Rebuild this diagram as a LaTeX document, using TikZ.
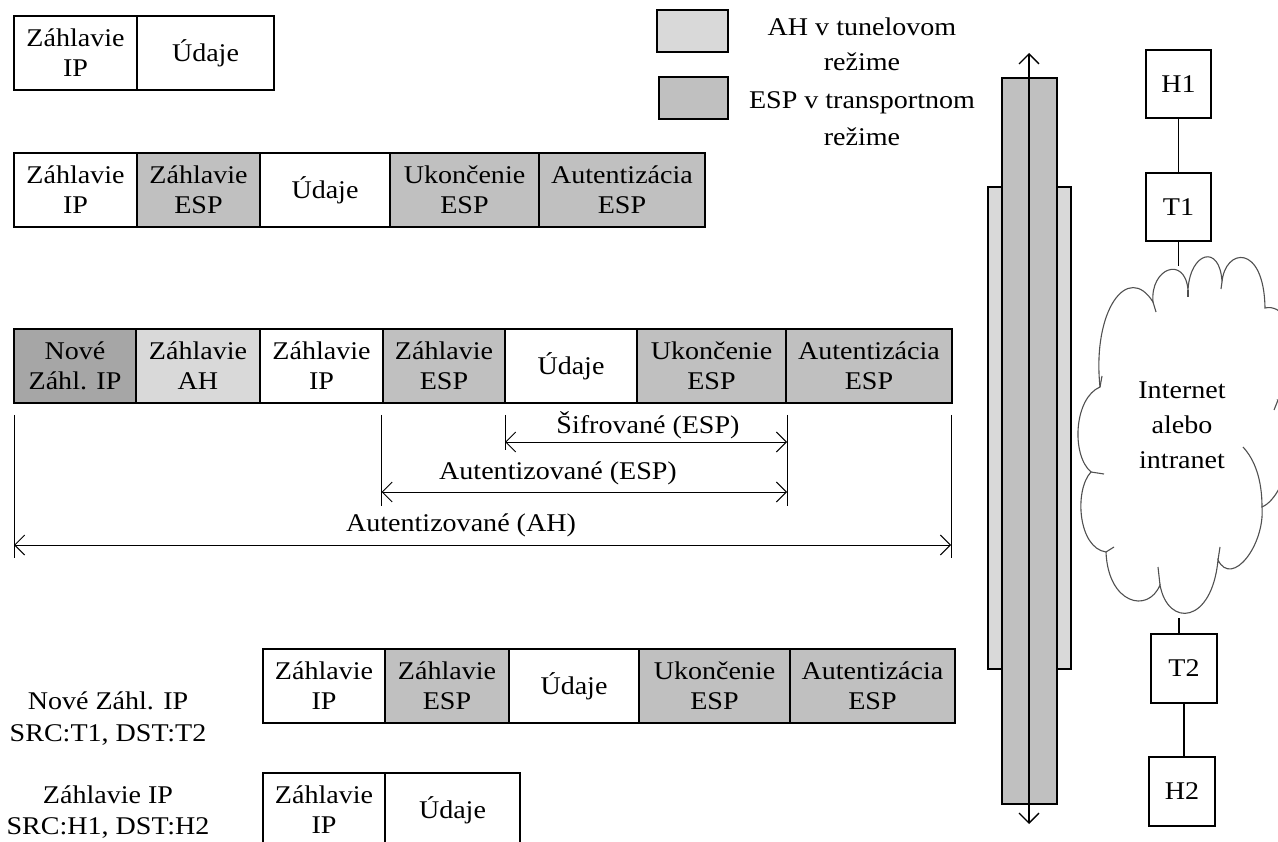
\documentclass[tikz,border=0pt]{standalone}
\usepackage{fontspec}
\setmainfont[FakeStretch=1.1]{Liberation Serif}
\usetikzlibrary{arrows.meta}
\definecolor{espgray}{HTML}{C0C0C0}
\definecolor{ahgray}{HTML}{D9D9D9}
\definecolor{newgray}{HTML}{A6A6A6}
\definecolor{cloudline}{HTML}{505050}
\begin{document}
\begin{tikzpicture}[x=1pt,y=-1pt,
  >={Straight Barb[length=10pt,width=20pt]},
  every node/.style={font=\fontsize{25.5}{30}\selectfont},
  cell/.style={draw, line width=1.3pt, inner sep=0pt, align=center, minimum height=74pt},
  host/.style={draw, line width=1.3pt, inner sep=0pt, minimum width=65pt, minimum height=68pt},
  link/.style={line width=1.3pt},
  dimline/.style={line width=1pt},
  dimarrow/.style={<->, line width=1pt},
  cloudl/.style={draw=cloudline, line width=1.1pt},
  lbl/.style={align=center, inner sep=0pt}]
\useasboundingbox (0,0) rectangle (1278,842);

% Row 1
\node[cell, minimum width=123] (r1a) at (75.5,53) {Záhlavie\\IP};
\node[cell, minimum width=137] (r1b) at (205.5,53) {Údaje};

% Row 2
\node[cell, minimum width=123] (r2a) at (75.5,190) {Záhlavie\\IP};
\node[cell, minimum width=123, fill=espgray] (r2b) at (198.5,190) {Záhlavie\\ESP};
\node[cell, minimum width=130] (r2c) at (325,190) {Údaje};
\node[cell, minimum width=149, fill=espgray] (r2d) at (464.5,190) {Ukončenie\\ESP};
\node[cell, minimum width=166, fill=espgray] (r2e) at (622,190) {Autentizácia\\ESP};

% Row 3
\node[cell, minimum width=122, fill=newgray] (r3a) at (75,366) {Nové\\Záhl. IP};
\node[cell, minimum width=124, fill=ahgray] (r3b) at (198,366) {Záhlavie\\AH};
\node[cell, minimum width=123] (r3c) at (321.5,366) {Záhlavie\\IP};
\node[cell, minimum width=122, fill=espgray] (r3d) at (444,366) {Záhlavie\\ESP};
\node[cell, minimum width=132] (r3e) at (571,366) {Údaje};
\node[cell, minimum width=149, fill=espgray] (r3f) at (711.5,366) {Ukončenie\\ESP};
\node[cell, minimum width=166, fill=espgray] (r3g) at (869,366) {Autentizácia\\ESP};

% Dimension ticks
\coordinate (k1a) at (14,415);   \coordinate (k1b) at (14,558);
\coordinate (k2a) at (381.5,415);\coordinate (k2b) at (381.5,506);
\coordinate (k3a) at (505,415);  \coordinate (k3b) at (505,450);
\coordinate (k4a) at (787,415);  \coordinate (k4b) at (787,506);
\coordinate (k5a) at (951,415);  \coordinate (k5b) at (951,558);
\draw[dimline] (k1a) -- (k1b);
\draw[dimline] (k2a) -- (k2b);
\draw[dimline] (k3a) -- (k3b);
\draw[dimline] (k4a) -- (k4b);
\draw[dimline] (k5a) -- (k5b);
\coordinate (s1) at (505,442); \coordinate (s2) at (787,442);
\coordinate (e1) at (381.5,492); \coordinate (e2) at (787,492);
\coordinate (h1) at (14,545); \coordinate (h2) at (951,545);
\draw[dimarrow] (s1) -- (s2);
\draw[dimarrow] (e1) -- (e2);
\draw[dimarrow] (h1) -- (h2);
\node[lbl] (lsif) at (648,425) {Šifrované (ESP)};
\node[lbl] (lesp) at (558,473) {Autentizované (ESP)};
\node[lbl] (lah) at (461,525) {Autentizované (AH)};

% Row 4
\node[cell, minimum width=122] (r4a) at (324,686) {Záhlavie\\IP};
\node[cell, minimum width=124, fill=espgray] (r4b) at (447,686) {Záhlavie\\ESP};
\node[cell, minimum width=130] (r4c) at (574,686) {Údaje};
\node[cell, minimum width=151, fill=espgray] (r4d) at (714.5,686) {Ukončenie\\ESP};
\node[cell, minimum width=165, fill=espgray] (r4e) at (872.5,686) {Autentizácia\\ESP};

% Row 5
\node[cell, minimum width=122] (r5a) at (324,810) {Záhlavie\\IP};
\node[cell, minimum width=135] (r5b) at (452.5,810) {Údaje};

% Left labels
\node[lbl, font=\fontsize{25.5}{32}\selectfont] (lnew) at (108,719) {Nové Záhl. IP\\SRC:T1, DST:T2};
\node[lbl, font=\fontsize{25.5}{31}\selectfont] (lold) at (108,812.5) {Záhlavie IP\\SRC:H1, DST:H2};

% Legend
\node[draw, line width=1.3pt, fill=ahgray, minimum width=71pt, minimum height=42pt, inner sep=0pt] (lg1) at (692.5,31) {};
\node[draw, line width=1.3pt, fill=espgray, minimum width=69pt, minimum height=42pt, inner sep=0pt] (lg2) at (693.5,98) {};
\node[lbl, font=\fontsize{25.5}{35}\selectfont] (lg1t) at (862,44.5) {AH v tunelovom\\režime};
\node[lbl, font=\fontsize{25.5}{37}\selectfont] (lg2t) at (862,118.5) {ESP v transportnom\\režime};

% Pipe
\draw[line width=1.3pt, fill=ahgray] (988,187) rectangle (1071,669);
\draw[line width=1.3pt, fill=espgray] (1002,78) rectangle (1057,804);
\coordinate (ptop) at (1029,53);
\coordinate (pbot) at (1029,824);
\draw[<->, line width=1.3pt] (ptop) -- (pbot);

% Hosts
\node[host] (H1) at (1178.5,84) {H1};
\node[host] (T1) at (1178.5,207) {T1};
\node[host, minimum width=66pt, minimum height=69pt] (T2) at (1184,668.5) {T2};
\node[host, minimum width=66pt, minimum height=69pt] (H2) at (1182,791.5) {H2};

% Cloud
\begin{scope}
\clip (0,0) rectangle (1278,842);
\draw[cloudl, fill=white] (1100,387)
 .. controls (1092,310) and (1128,262) .. (1153,302)
 .. controls (1150,268) and (1185,255) .. (1188,290)
 .. controls (1190,252) and (1220,243) .. (1222,282)
 .. controls (1225,248) and (1264,243) .. (1265,308)
 .. controls (1300,300) and (1310,400) .. (1278,400)
 .. controls (1305,410) and (1290,495) .. (1262,507)
 .. controls (1265,545) and (1232,588) .. (1218,560)
 .. controls (1212,624) and (1168,628) .. (1160,585)
 .. controls (1148,614) and (1108,604) .. (1106,552)
 .. controls (1078,548) and (1074,490) .. (1091,472)
 .. controls (1071,455) and (1074,398) .. (1100,387) -- cycle;
\draw[cloudl] (1153,302) -- (1156,312);
\draw[cloudl] (1188,290) -- (1188,297);
\draw[cloudl] (1222,282) -- (1221,289);
\draw[cloudl] (1262,507) .. controls (1262,480) and (1255,460) .. (1243,447);
\draw[cloudl] (1278,400) -- (1274,410);
\draw[cloudl] (1218,560) -- (1220,547);
\draw[cloudl] (1160,585) -- (1158,567);
\draw[cloudl] (1106,552) -- (1114,547);
\draw[cloudl] (1091,472) -- (1104,474);
\draw[cloudl] (1100,387) -- (1102,376);
\end{scope}
\coordinate (ctop) at (1178.5,266);
\coordinate (cbot) at (1179,618);
\node[lbl, font=\fontsize{25.5}{35}\selectfont] (ctext) at (1182,425) {Internet\\alebo\\intranet};

% Links
\draw[link] (H1.south) -- (T1.north);
\draw[link] (T1.south) -- (ctop);
\draw[link] (cbot) -- (cbot |- T2.north);
\draw[link] (T2.south) -- (T2.south |- H2.north);
\end{tikzpicture}
\end{document}
